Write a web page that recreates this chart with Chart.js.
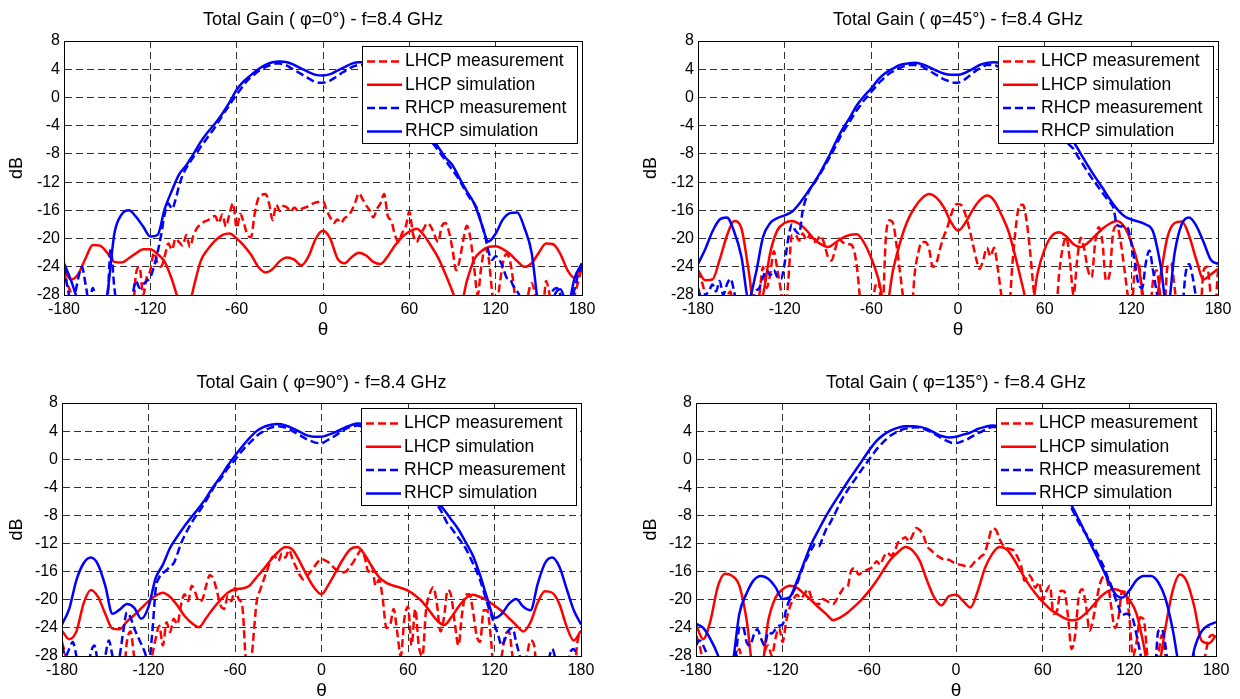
<!DOCTYPE html>
<html><head><meta charset="utf-8">
<script src="https://cdn.jsdelivr.net/npm/chart.js@4.4.1/dist/chart.umd.min.js"></script>
<style>
html,body{margin:0;padding:0;background:#fff;width:1240px;height:699px;overflow:hidden;position:relative}
canvas{position:absolute}
</style></head><body>
<canvas id="p0" width="620" height="350" style="left:0;top:0"></canvas>
<canvas id="p1" width="620" height="350" style="left:620px;top:0"></canvas>
<canvas id="p2" width="620" height="360" style="left:0;top:350px"></canvas>
<canvas id="p3" width="620" height="360" style="left:620px;top:350px"></canvas>
<script>
// ---------- categories / ticks ----------
const thetaSim = [-180,-175,-170,-165,-160,-155,
-150,-145,-140,-135,-130,-125,
-120,-115,-110,-105,-100,-95,
-90,-85,-80,-75,-70,-65,
-60,-55,-50,-45,-40,-35,
-30,-25,-20,-15,-10,-5,
0,5,10,15,20,25,
30,35,40,45,50,55,
60,65,70,75,80,85,
90,95,100,105,110,115,
120,125,130,135,140,145,
150,155,160,165,170,175,
180];
const thetaMeas = [-180,-177.5,-175,-172.5,-170,-167.5,-165,-162.5,-160,-157.5,-155,-152.5,
-150,-147.5,-145,-142.5,-140,-137.5,-135,-132.5,-130,-127.5,-125,-122.5,
-120,-117.5,-115,-112.5,-110,-107.5,-105,-102.5,-100,-97.5,-95,-92.5,
-90,-87.5,-85,-82.5,-80,-77.5,-75,-72.5,-70,-67.5,-65,-62.5,
-60,-57.5,-55,-52.5,-50,-47.5,-45,-42.5,-40,-37.5,-35,-32.5,
-30,-27.5,-25,-22.5,-20,-17.5,-15,-12.5,-10,-7.5,-5,-2.5,
0,2.5,5,7.5,10,12.5,15,17.5,20,22.5,25,27.5,
30,32.5,35,37.5,40,42.5,45,47.5,50,52.5,55,57.5,
60,62.5,65,67.5,70,72.5,75,77.5,80,82.5,85,87.5,
90,92.5,95,97.5,100,102.5,105,107.5,110,112.5,115,117.5,
120,122.5,125,127.5,130,132.5,135,137.5,140,142.5,145,147.5,
150,152.5,155,157.5,160,162.5,165,167.5,170,172.5,175,177.5,
180];
const xTicks = [-180,-120,-60,0,60,120,180];
const yTicks = [-28,-24,-20,-16,-12,-8,-4,0,4,8];
const seriesNames = ['LHCP measurement','LHCP simulation','RHCP measurement','RHCP simulation'];
const titles = ['Total Gain ( φ=0°) - f=8.4 GHz','Total Gain ( φ=45°) - f=8.4 GHz','Total Gain ( φ=90°) - f=8.4 GHz','Total Gain ( φ=135°) - f=8.4 GHz'];

// ---------- phi = 0 ----------
const lhcpMeas0 = [-25,-26.5,-28,-31,-31,-31,-31,-31,-31,-31,-31,-31,
-31,-31,-31,-31,-31,-31,-31,-31,-25,-24,-28,-25.5,
-24.5,-22,-23.5,-24,-22.5,-20.7,-21.6,-20,-20.5,-21,-19.5,-21.2,
-19.5,-18.5,-18,-17.6,-17.4,-17,-16.8,-17.8,-16.6,-18.3,-16.5,-15,
-18.5,-16.5,-17.8,-19.5,-19.8,-16.5,-14.3,-13.8,-13.7,-15,-17.4,-15.2,
-16.1,-15.4,-15.6,-16.2,-15.6,-16,-15.8,-15.6,-15.4,-15.1,-14.9,-14.8,
-14.7,-16,-17,-17.8,-17.3,-17.8,-17.1,-16.8,-16,-14.8,-13.6,-14.4,
-15.3,-16,-17,-15.8,-15,-13.7,-16.8,-17.5,-19.5,-20.5,-19.2,-18.3,
-16.2,-19.3,-20.5,-19.5,-18.6,-17.8,-18.3,-19.5,-20.5,-18.3,-17.8,-19,
-21.5,-24.5,-23,-20.2,-18.2,-20,-24,-28,-24,-21.4,-22.6,-27.5,
-31,-27,-23.5,-22.2,-23.2,-26.5,-31,-31,-31,-28,-26.3,-28,
-31,-31,-26,-28,-31,-31,-31,-31,-31,-31,-28,-26,
-24];
const lhcpSim0 = [-24.5,-25.8,-25,-22.8,-20.9,-21,
-22,-23.3,-23.4,-22.8,-22.1,-21.5,
-21.5,-22.2,-23.3,-25.8,-29,-31,
-27,-23.2,-21.5,-20.3,-19.5,-19.3,
-20,-21,-22.3,-24,-24.8,-24.3,
-23.2,-22.7,-23,-23.8,-22.5,-20,
-18.9,-20,-22.8,-23.5,-22.6,-22,
-22.4,-23.3,-23.6,-22.5,-21,-19.8,
-19,-18.6,-19.5,-21,-22.7,-25,
-27.5,-30,-26,-23,-21.8,-21.2,
-21.1,-21.5,-22.2,-23.2,-24,-23.5,
-22,-20.7,-20.8,-22.2,-24.5,-25.6,
-23.5];
const rhcpMeas0 = [-24,-27,-29,-28,-25.5,-24,-26.5,-29,-27,-29,-30,-30,
-29,-21.5,-27,-30,-30,-30,-29,-28,-26,-27,-26.5,-26,
-25.5,-24,-22,-19.5,-16.5,-15,-15.8,-14.5,-12.5,-11,-10,-9.2,
-8.4,-7.8,-7,-6.3,-5.6,-4.9,-4.2,-3.4,-2.6,-1.8,-1.1,-0.3,
0.4,1.1,1.8,2.4,2.9,3.3,3.7,4,4.3,4.5,4.7,4.8,
4.8,4.7,4.5,4.2,3.9,3.6,3.3,3,2.7,2.4,2.2,2.1,
2.1,2.2,2.4,2.7,3,3.4,3.7,4,4.3,4.5,4.6,4.6,
4.5,4.3,4,3.6,3.1,2.5,1.9,1.2,0.5,-0.2,-0.9,-1.6,
-2.3,-3,-3.7,-4.4,-5,-5.6,-6.2,-6.8,-7.5,-8.2,-8.9,-9.6,
-10.3,-11,-11.8,-12.7,-13.6,-14.4,-15,-16,-17.8,-19.5,-21.8,-23,
-22.5,-23,-24,-25.5,-25.8,-26.8,-27.5,-28.5,-30,-30,-30,-30,
-30,-30,-30,-28.5,-27.3,-27,-28,-30,-30,-29,-27,-25,
-24];
const rhcpSim0 = [-23.5,-26,-29,-31,-32,-31,
-28,-19.3,-16.6,-16,-16.9,-18.3,
-19.7,-19.5,-15.8,-13.2,-10.9,-9.6,
-8,-6.3,-4.9,-3.7,-2.3,-0.7,
1.1,2.3,3.2,4,4.6,5,
5.1,5,4.6,4.1,3.6,3.2,
3.1,3.3,3.8,4.3,4.8,5,
5,4.6,4,3,1.8,0.4,
-1,-2.5,-4,-5.5,-7,-8.5,
-9.6,-11.5,-13.3,-15,-17.8,-20.4,
-19.3,-17.3,-16.4,-16.3,-18.5,-22,
-30,-33,-28.5,-27.2,-29.5,-25.5,
-23.5];

// ---------- phi = 45 ----------
const lhcpMeas45 = [-24.5,-26,-28,-31,-31,-31,-31,-31,-28.5,-27.5,-31,-31,
-31,-31,-31,-31,-31,-28,-24,-27,-25,-21.8,-24.5,-27.5,
-31,-26,-19.5,-19.5,-20.3,-19.3,-20.2,-19.5,-20.5,-20.2,-19.6,-20.8,
-22.6,-23.1,-21.5,-20,-20.5,-20.8,-20.8,-21.3,-24,-29,-31,-31,
-31,-27,-26,-31,-20,-17.4,-17.8,-21,-25,-29,-31,-31,
-25,-22,-20.5,-20.5,-21.5,-24,-23.5,-21.5,-19.8,-18.5,-16.8,-15.4,
-15.1,-15.3,-16.5,-18.3,-20.5,-22.8,-24.3,-23,-21.3,-22.5,-21.3,-24.2,
-28,-31,-31,-24,-18.5,-15.3,-15.2,-17.5,-22,-27.5,-31,-31,
-31,-31,-31,-31,-25,-21.3,-19.8,-23.2,-28,-23,-19.9,-21.6,
-24.5,-25.5,-20.5,-18.4,-20.5,-26,-25,-19,-18.2,-20.3,-24,-28,
-31,-24,-23.5,-28,-31,-31,-26,-24.5,-28,-31,-24,-23.5,
-27,-31,-31,-31,-31,-31,-31,-31,-24.5,-24,-28,-31,
-24.5];
const lhcpSim45 = [-24.5,-25.9,-25.8,-23,-19.6,-17.5,
-18.5,-24.5,-31,-28,-22,-18.8,
-17.8,-17.5,-17.9,-18.8,-20,-20.8,
-21.2,-20.6,-19.9,-19.5,-19.4,-20.6,
-22.8,-25.8,-30,-24.5,-20.5,-17.5,
-15.6,-14.3,-13.7,-14.2,-15.5,-17.6,
-18.9,-17.8,-16,-14.6,-13.9,-14.6,
-16.6,-19,-22.8,-27,-31,-25,
-21.5,-19.6,-19.1,-19.7,-20.8,-21.2,
-20.6,-19.6,-18.6,-17.9,-17.5,-18.3,
-20.5,-24,-30,-31,-25.5,-19.8,
-17.8,-17.6,-19.6,-23,-25.8,-25.1,
-24.3];
const rhcpMeas45 = [-27,-28.5,-28,-27.5,-26.5,-27.5,-26,-28,-26.5,-25.7,-27.5,-30,
-30,-30,-30,-29,-27.5,-27,-25.5,-24.5,-25.2,-24.5,-25.5,-25.7,
-23.5,-20,-18,-18.9,-19.3,-16,-14.2,-13,-12.3,-11.5,-10.7,-9.8,
-8.9,-8,-7,-6,-5,-4.2,-3.4,-2.6,-1.8,-1.1,-0.4,0.2,
0.8,1.4,2,2.5,3,3.4,3.7,4,4.2,4.4,4.5,4.6,
4.6,4.5,4.4,4.1,3.8,3.5,3.2,2.9,2.6,2.4,2.2,2.1,
2.1,2.3,2.6,3,3.4,3.8,4.1,4.4,4.6,4.6,4.6,4.4,
4.2,3.9,3.5,3,2.4,1.8,1.1,0.4,-0.3,-1,-1.7,-2.4,
-3,-3.6,-4.2,-4.8,-5.3,-5.8,-6.3,-6.8,-7.3,-8.2,-9,-9.8,
-10.6,-11.4,-12.1,-12.8,-13.5,-14.2,-14.8,-15.6,-18,-18.3,-18.2,-18.5,
-20.7,-23.5,-26.5,-27,-23.5,-21.7,-24.5,-27.5,-30,-30,-30,-30,
-30,-30,-30,-25,-23.6,-25.5,-28.5,-30,-30,-30,-30,-30,
-28];
const rhcpSim45 = [-23.6,-21.5,-19,-17.3,-17,-19,
-22.5,-28.5,-25,-19.8,-17.8,-17.1,
-16.7,-16.2,-15.1,-13.7,-12.2,-10.5,
-8.6,-6.5,-4.5,-2.9,-1.1,0.2,
1.3,2.6,3.5,4.1,4.6,4.8,
4.9,4.7,4.3,3.8,3.4,3.2,
3.2,3.5,4,4.6,4.9,5,
4.8,4.3,3.4,2.3,1,-0.5,
-1.8,-3,-4.2,-5.3,-6.3,-8,
-9.7,-11.3,-12.8,-14.4,-15.8,-16.8,
-17.3,-17.6,-18,-19,-23.5,-30,
-22,-17.9,-17,-18.2,-20.5,-23,
-23.6];

// ---------- phi = 90 ----------
const lhcpMeas90 = [-26,-28,-31,-31,-31,-31,-31,-31,-31,-31,-31,-31,
-31,-31,-31,-31,-31,-31,-26,-24.5,-28,-31,-31,-31,
-31,-28,-25.5,-23.7,-26.5,-23.2,-24.6,-22.7,-23.5,-20.8,-19.2,-20.2,
-18,-19,-20.2,-19.9,-18,-16.5,-17,-18.8,-20.8,-21.3,-19.5,-20.2,
-18.3,-19.9,-20.8,-28.5,-31,-26,-20.3,-18.6,-17.1,-15.7,-14.2,-13.8,
-14.5,-13.4,-14,-12.9,-14.3,-15.4,-16.5,-17.1,-16.6,-16,-15.3,-14.6,
-14.2,-14.4,-14.7,-15.2,-15.7,-16,-16.1,-15.9,-15.2,-14.5,-13.6,-12.9,
-14,-16,-15.2,-18,-17.1,-19.9,-24,-23.7,-21.3,-24.6,-28,-22.7,
-21,-26.5,-21.3,-26.5,-28,-21.5,-19.2,-18.2,-20.5,-24.5,-22.5,-18.6,
-19.5,-23.4,-26.5,-22,-19.3,-19.2,-21.5,-25,-26,-21.5,-21.5,-25.5,
-31,-31,-28,-25,-24.5,-28,-31,-31,-31,-28,-25.8,-26.5,
-31,-31,-31,-31,-31,-31,-31,-31,-31,-31,-31,-26,
-24.5];
const lhcpSim90 = [-24.4,-25.6,-24.5,-20.5,-18.6,-19.6,
-22,-24.1,-24.2,-23.1,-22.2,-21.2,
-20.2,-19.4,-19,-19.6,-20.8,-22.3,
-23.3,-23.9,-22.6,-21.2,-20,-19,
-18.5,-18.4,-18,-16.8,-15.6,-14.3,
-13.2,-12.5,-12.9,-14.6,-16.6,-18.3,
-19.2,-17.8,-16,-14.2,-12.8,-12.5,
-13.6,-15.3,-16.8,-17.6,-18,-18.3,
-18.7,-19.4,-20.3,-21.6,-22.9,-23.6,
-22.5,-21,-19.8,-19.3,-19.6,-20.1,
-20.8,-21.6,-22.6,-23.6,-24.5,-23.2,
-20.4,-18.8,-19,-20.6,-23.8,-25.8,
-24.4];
const rhcpMeas90 = [-26.5,-28,-27,-26,-28,-30,-30,-30,-27.5,-26.5,-29,-30,
-28,-25.8,-28,-30,-28,-24.5,-21.8,-22.5,-24,-25.2,-26.3,-27.5,
-29,-25,-18.5,-16.8,-16.2,-15.8,-15.2,-14.8,-13.5,-12,-10.9,-9.9,
-9,-8.2,-7.5,-6.7,-5.9,-5,-4.1,-3.4,-2.8,-2.1,-1.3,-0.7,
-0.1,0.6,1.2,1.8,2.3,2.8,3.3,3.7,4,4.3,4.5,4.6,
4.7,4.6,4.5,4.3,4,3.7,3.4,3.1,2.8,2.6,2.4,2.3,
2.3,2.5,2.8,3.1,3.4,3.8,4.1,4.4,4.6,4.7,4.8,4.7,
4.5,4.2,3.8,3.3,2.7,2.1,1.4,0.7,0,-0.7,-1.3,-2,
-2.6,-3.2,-3.8,-4.4,-5,-5.5,-6,-6.3,-6.5,-7.2,-8.2,-9.2,
-9.8,-10.5,-11.2,-11.9,-12.7,-13.7,-14.8,-15.9,-17.2,-18.8,-20.5,-22,
-23.5,-25,-26.5,-25.5,-24.3,-24,-26,-28,-30,-30,-30,-30,
-30,-30,-30,-28.5,-27,-28.5,-30,-30,-30,-27.5,-27,-28.5,
-30];
const rhcpSim90 = [-23.5,-21.3,-17.2,-14.8,-14,-15,
-18,-22,-21.4,-20.6,-21.1,-22.7,
-21,-16.9,-15,-12.6,-11,-9.5,
-8.2,-6.9,-5.5,-3.9,-2.5,-0.9,
0.5,1.8,3,4,4.6,4.9,
5,4.8,4.4,3.9,3.4,3.2,
3.2,3.5,3.9,4.4,4.8,5.1,
5,4.6,3.8,2.8,1.5,0.2,
-1,-2.2,-3.5,-4.8,-6,-7.2,
-8.6,-10,-11.8,-13.7,-16.5,-19.8,
-22.6,-22,-20.6,-19.9,-21,-21.5,
-17.7,-14.8,-14,-15.3,-18.4,-21.5,
-23.5];

// ---------- phi = 135 ----------
const lhcpMeas135 = [-25,-26.5,-29,-31,-31,-31,-31,-31,-31,-31,-31,-28.5,
-27,-30,-31,-31,-31,-31,-31,-27.5,-26.5,-28,-25.5,-24,
-26,-23,-21,-19.9,-19.3,-19.8,-19.2,-18.5,-19.7,-20.6,-20.6,-19.9,
-20.1,-20.4,-20.6,-19.9,-19,-18.3,-18.1,-15.8,-15.5,-16.4,-16.1,-15.8,
-15.6,-15.3,-14.5,-15,-13.9,-13.3,-13.7,-13.1,-11.8,-11.4,-11.1,-11.7,
-10.8,-9.8,-10.1,-10.9,-12.4,-12.9,-13.4,-13.8,-14.1,-14.4,-14.3,-14.6,
-14.8,-15,-15.1,-15.3,-15.3,-14.7,-14.3,-13.8,-13.3,-11.5,-9.9,-10,
-11.3,-12.2,-12.6,-12.8,-13,-13.9,-15.1,-17.3,-16.4,-17,-18.3,-17.5,
-20,-18.8,-18,-22,-21.5,-18.7,-18.8,-22.3,-27,-25,-19.5,-18.5,
-20.8,-24.4,-22.7,-19.8,-17.5,-16.7,-17.5,-21,-24,-22.5,-18.8,-19,
-22.5,-28,-26,-22.5,-22.8,-28,-31,-31,-28,-25,-28,-31,
-31,-31,-31,-31,-31,-31,-31,-31,-31,-28,-25.5,-25,
-25.5];
const lhcpSim135 = [-23.6,-25.6,-23,-18.2,-16.3,-16.6,
-18,-22.8,-30,-30,-23,-19.7,
-18.5,-18,-18.3,-19.2,-20.1,-21.1,
-22,-22.9,-22.5,-21.8,-20.9,-19.9,
-18.7,-17.3,-15.7,-14.2,-13.2,-12.5,
-13,-14.5,-17.3,-19.7,-20.8,-19.5,
-19.3,-20.2,-21.1,-18.8,-15.5,-13.5,
-12.5,-12.8,-14.2,-16,-17.7,-19.1,
-20.3,-21.3,-22,-22.6,-22.9,-22.7,
-21.9,-20.8,-19.6,-18.8,-18.5,-18.9,
-20,-22,-26.5,-32,-30,-24,
-18.7,-16.4,-17.5,-21,-25.8,-26.2,
-25.1];
const rhcpMeas135 = [-26.5,-25.8,-26.5,-27.8,-30,-30,-30,-30,-30,-30,-30,-28,
-24,-23.8,-26,-26.5,-25,-24.2,-25.5,-26.5,-24.6,-24.8,-24.2,-23.7,
-23.5,-21.3,-19.9,-18.8,-17.7,-16.2,-14.9,-13.8,-12.8,-12.1,-12.4,-11.3,
-10,-9.2,-8.2,-7.2,-6.1,-5.2,-4.4,-3.6,-2.9,-2.1,-1.4,-0.7,
0,0.7,1.4,2,2.5,3,3.4,3.7,4,4.2,4.35,4.45,
4.5,4.55,4.5,4.3,4.1,3.9,3.6,3.3,3,2.7,2.5,2.3,
2.3,2.4,2.6,2.8,3.1,3.4,3.7,3.9,4.2,4.4,4.6,4.6,
4.5,4.2,3.8,3.3,2.7,2,1.3,0.5,-0.2,-0.9,-1.6,-2.3,
-3,-3.6,-4.2,-4.8,-5.3,-5.8,-6.2,-6.5,-7,-8,-9,-9.9,
-10.6,-11.3,-12.3,-13.3,-14.3,-15.4,-16.8,-18,-19.6,-21,-22.2,-22,
-22.1,-22.8,-25,-27.5,-30,-30,-30,-30,-24.5,-24.2,-26.5,-30,
-30,-30,-30,-30,-30,-30,-27.5,-30,-30,-30,-30,-30,
-30];
const rhcpSim135 = [-23.4,-24,-25.6,-27.8,-31,-29.5,
-22,-19.1,-17.2,-16.6,-17,-18.2,
-19.9,-19.6,-17.3,-14.6,-12,-10,
-8.1,-6.4,-4.8,-3.2,-1.7,-0.2,
1.3,2.6,3.5,4.1,4.5,4.7,
4.7,4.6,4.3,3.8,3.3,3.1,
3.2,3.5,3.8,4.3,4.6,4.8,
4.7,4.3,3.6,2.6,1.4,0.1,
-1.2,-2.6,-4,-5.4,-6.6,-8.6,
-10.7,-12.8,-14.9,-17.1,-19.1,-19.7,
-18.7,-17.2,-16.6,-16.6,-17.5,-19.8,
-24.2,-30,-32,-27,-24.5,-23.6,
-23.2];

// ---------- rendering ----------
const FONT = "'Liberation Sans', Arial, Helvetica, sans-serif";
Chart.defaults.font.family = FONT;
Chart.defaults.color = '#000';

const RED = '#ff0000', BLUE = '#0000ff';
const DASH = [8,4];

function makeDataset(label, xs, ys, color, dashed, order) {
  return {
    label,
    data: xs.map((x, i) => ({x: x, y: ys[i]})),
    borderColor: color,
    backgroundColor: color,
    borderWidth: 2.5,
    borderDash: dashed ? DASH : [],
    borderJoinStyle: 'round',
    pointRadius: 0,
    pointHoverRadius: 0,
    fill: false,
    cubicInterpolationMode: 'monotone',
    clip: 0,
    order: order
  };
}

const frameLegend = {
  id: 'frameLegend',
  afterDraw(chart) {
    const ctx = chart.ctx, a = chart.chartArea;
    ctx.save();
    ctx.setLineDash([]);
    ctx.strokeStyle = '#000';
    ctx.lineWidth = 1;
    ctx.strokeRect(Math.round(a.left) + 0.5, Math.round(a.top) + 0.5,
                   Math.round(a.right) - Math.round(a.left), Math.round(a.bottom) - Math.round(a.top));
    // legend box
    const W = 215, H = 97;
    const L = Math.round(a.right - 5 - W), T = Math.round(a.top + 5);
    ctx.fillStyle = '#fff';
    ctx.fillRect(L, T, W, H);
    ctx.strokeRect(L + 0.5, T + 0.5, W, H);
    ctx.font = '17.5px ' + FONT;
    ctx.textBaseline = 'middle';
    ctx.textAlign = 'left';
    chart.data.datasets.forEach((d, i) => {
      const y = T + 15.5 + i * 23.3;
      ctx.strokeStyle = d.borderColor;
      ctx.lineWidth = 2.5;
      ctx.setLineDash(d.borderDash || []);
      ctx.beginPath();
      ctx.moveTo(L + 5, y);
      ctx.lineTo(L + 40, y);
      ctx.stroke();
      ctx.fillStyle = '#000';
      ctx.fillText(d.label, L + 43, y);
    });
    ctx.restore();
  }
};

const panels = [
  {id:'p0', title:titles[0], series:[lhcpMeas0,lhcpSim0,rhcpMeas0,rhcpSim0], H:350, left:64, right:582, tTop:9.2, tBot:10.2, bottom:295, yPad:6.2, xPad:8.6},
  {id:'p1', title:titles[1], series:[lhcpMeas45,lhcpSim45,rhcpMeas45,rhcpSim45], H:350, left:78, right:598, tTop:9.2, tBot:10.2, bottom:295, yPad:20.2, xPad:8.6},
  {id:'p2', title:titles[2], series:[lhcpMeas90,lhcpSim90,rhcpMeas90,rhcpSim90], H:360, left:62, right:581, tTop:22.2, tBot:9.2, bottom:306, yPad:6.2, xPad:7.6},
  {id:'p3', title:titles[3], series:[lhcpMeas135,lhcpSim135,rhcpMeas135,rhcpSim135], H:360, left:76, right:596, tTop:22.2, tBot:9.2, bottom:306, yPad:20.2, xPad:7.6}
];

const gridOpts = {color: 'rgba(0,0,0,0.8)', lineWidth: 1, drawTicks: false};
const borderOpts = {display: true, color: '#000', width: 1, dash: [7,4]};

panels.forEach(p => {
  const [lm, ls, rm, rs] = p.series;
  new Chart(document.getElementById(p.id), {
    type: 'line',
    data: {
      datasets: [
        makeDataset(seriesNames[0], thetaMeas, lm, RED, true, 3),
        makeDataset(seriesNames[1], thetaSim, ls, RED, false, 2),
        makeDataset(seriesNames[2], thetaMeas, rm, BLUE, true, 1),
        makeDataset(seriesNames[3], thetaSim, rs, BLUE, false, 0)
      ]
    },
    options: {
      responsive: false,
      animation: false,
      devicePixelRatio: 1,
      events: [],
      layout: {padding: {left: 0, right: 620 - p.right, top: 0, bottom: 0}},
      plugins: {
        legend: {display: false},
        tooltip: {enabled: false},
        title: {
          display: true, text: p.title, fullSize: false, color: '#000',
          font: {size: 18, weight: 'normal', family: FONT},
          padding: {top: p.tTop, bottom: p.tBot}
        }
      },
      scales: {
        x: {
          type: 'linear', min: -180, max: 180,
          afterBuildTicks: s => { s.ticks = xTicks.map(v => ({value: v})); },
          afterFit: s => { s.height = p.H - p.bottom; },
          ticks: {autoSkip: false, maxRotation: 0, minRotation: 0, padding: 5, color: '#000', font: {size: 16}},
          grid: gridOpts,
          border: borderOpts,
          title: {display: true, text: 'θ', color: '#000', font: {size: 19}, padding: {top: 0, bottom: p.xPad}}
        },
        y: {
          type: 'linear', min: -28, max: 8,
          afterBuildTicks: s => { s.ticks = yTicks.map(v => ({value: v})); },
          afterFit: s => { s.width = p.left; },
          ticks: {padding: 4, color: '#000', font: {size: 16}},
          grid: gridOpts,
          border: borderOpts,
          title: {display: true, text: 'dB', color: '#000', font: {size: 18}, padding: {top: p.yPad, bottom: 0}}
        }
      }
    },
    plugins: [frameLegend]
  });
});

// sanity check on array lengths
const checks = {lhcpMeas0,rhcpMeas0,lhcpMeas45,rhcpMeas45,lhcpMeas90,rhcpMeas90,lhcpMeas135,rhcpMeas135};
const checksS = {lhcpSim0,rhcpSim0,lhcpSim45,rhcpSim45,lhcpSim90,rhcpSim90,lhcpSim135,rhcpSim135};
const bad = [];
Object.entries(checks).forEach(([k,v]) => { if (v.length !== thetaMeas.length) bad.push(k + ':' + v.length); });
Object.entries(checksS).forEach(([k,v]) => { if (v.length !== thetaSim.length) bad.push(k + ':' + v.length); });
if (thetaMeas.length !== 145 || thetaSim.length !== 73) bad.push('theta ' + thetaMeas.length + ' ' + thetaSim.length);
if (bad.length) throw new Error('Length mismatch: ' + bad.join(', '));
</script>
</body></html>
